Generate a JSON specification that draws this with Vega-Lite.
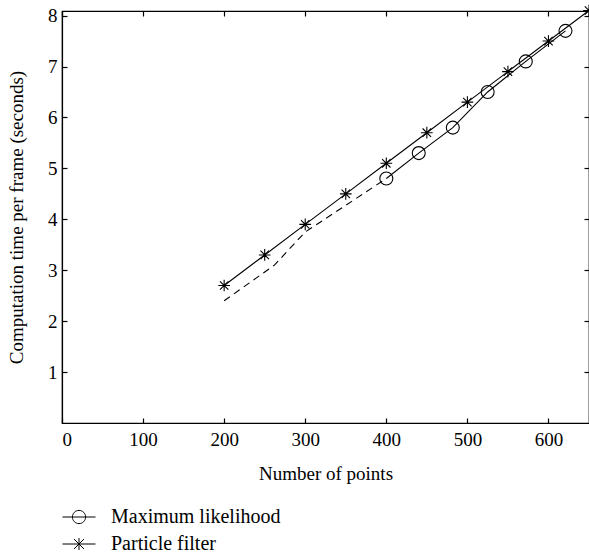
{
  "$schema": "https://vega.github.io/schema/vega-lite/v6.json",
  "width": 527,
  "height": 412,
  "autosize": {"type": "none"},
  "padding": {"left": 62, "top": 11, "right": 0, "bottom": 133},
  "background": "white",
  "config": {
    "font": "Liberation Serif",
    "view": {"stroke": "black", "strokeWidth": 1.2},
    "axis": {
      "grid": false,
      "domainColor": "black",
      "domainWidth": 1.2,
      "tickColor": "black",
      "tickWidth": 1.2,
      "tickSize": -5,
      "labelColor": "black",
      "titleColor": "black",
      "labelFont": "Liberation Serif",
      "titleFont": "Liberation Serif",
      "labelFontSize": 19,
      "titleFontSize": 19,
      "titleFontWeight": "normal",
      "labelPadding": 10
    },
    "legend": {
      "labelFont": "Liberation Serif",
      "labelFontSize": 20,
      "labelColor": "black",
      "labelLimit": 0
    }
  },
  "datasets": {
    "measurements": [
      {"series": "Particle filter", "points": 200, "time": 2.7},
      {"series": "Particle filter", "points": 250, "time": 3.3},
      {"series": "Particle filter", "points": 300, "time": 3.9},
      {"series": "Particle filter", "points": 350, "time": 4.5},
      {"series": "Particle filter", "points": 400, "time": 5.1},
      {"series": "Particle filter", "points": 450, "time": 5.7},
      {"series": "Particle filter", "points": 500, "time": 6.3},
      {"series": "Particle filter", "points": 550, "time": 6.9},
      {"series": "Particle filter", "points": 600, "time": 7.5},
      {"series": "Particle filter", "points": 650, "time": 8.1},
      {"series": "Maximum likelihood", "points": 400, "time": 4.8},
      {"series": "Maximum likelihood", "points": 440, "time": 5.3},
      {"series": "Maximum likelihood", "points": 482, "time": 5.8},
      {"series": "Maximum likelihood", "points": 525, "time": 6.5},
      {"series": "Maximum likelihood", "points": 572, "time": 7.1},
      {"series": "Maximum likelihood", "points": 621, "time": 7.7}
    ],
    "ml_dashed": [
      {"points": 200, "time": 2.4},
      {"points": 262, "time": 3.1},
      {"points": 300, "time": 3.75},
      {"points": 400, "time": 4.8}
    ]
  },
  "layer": [
    {
      "data": {"name": "measurements"},
      "mark": {"type": "line", "color": "black", "strokeWidth": 1.1},
      "encoding": {
        "x": {
          "field": "points", "type": "quantitative",
          "scale": {"domain": [0, 650], "nice": false, "zero": false},
          "axis": {"title": "Number of points", "values": [0, 100, 200, 300, 400, 500, 600], "labelPadding": 12, "titlePadding": 15}
        },
        "y": {
          "field": "time", "type": "quantitative",
          "scale": {"domain": [0, 8.09], "nice": false, "zero": false},
          "axis": {"title": "Computation time per frame (seconds)", "values": [1, 2, 3, 4, 5, 6, 7, 8], "titlePadding": 21}
        },
        "detail": {"field": "series"},
        "order": {"field": "points"}
      }
    },
    {
      "data": {"name": "ml_dashed"},
      "mark": {"type": "line", "color": "black", "strokeWidth": 1.1, "strokeDash": [7, 5]},
      "encoding": {
        "x": {
          "field": "points", "type": "quantitative",
          "scale": {"domain": [0, 650], "nice": false, "zero": false},
          "axis": {"orient": "top", "labels": false, "title": null, "values": [0, 100, 200, 300, 400, 500, 600]}
        },
        "y": {
          "field": "time", "type": "quantitative",
          "scale": {"domain": [0, 8.09], "nice": false, "zero": false},
          "axis": {"orient": "right", "labels": false, "title": null, "values": [1, 2, 3, 4, 5, 6, 7, 8]}
        }
      }
    },
    {
      "data": {"name": "measurements"},
      "mark": {"type": "point", "filled": false, "color": "black", "strokeWidth": 1.1, "size": 169, "opacity": 1},
      "encoding": {
        "x": {"field": "points", "type": "quantitative", "scale": {"domain": [0, 650], "nice": false, "zero": false}, "axis": null},
        "y": {"field": "time", "type": "quantitative", "scale": {"domain": [0, 8.09], "nice": false, "zero": false}, "axis": null},
        "shape": {
          "field": "series", "type": "nominal",
          "scale": {
            "domain": ["Maximum likelihood", "Particle filter"],
            "range": ["M1,0A1,1 0 1,1 -1,0A1,1 0 1,1 1,0Z", "M0,-0.9L0,0.9M-0.9,0L0.9,0M-0.65,-0.65L0.65,0.65M-0.65,0.65L0.65,-0.65"]
          },
          "legend": null
        }
      }
    },
    {
      "data": {"name": "measurements"},
      "mark": {"type": "point", "filled": false, "color": "black", "strokeWidth": 1, "size": 169, "opacity": 0},
      "encoding": {
        "x": {"field": "points", "type": "quantitative", "scale": {"domain": [0, 650], "nice": false, "zero": false}, "axis": null},
        "y": {"field": "time", "type": "quantitative", "scale": {"domain": [0, 8.09], "nice": false, "zero": false}, "axis": null},
        "shape": {
          "field": "series", "type": "nominal",
          "scale": {
            "domain": ["Maximum likelihood", "Particle filter"],
            "range": ["M-1,0L1,0M0.4,0A0.4,0.4 0 1,1 -0.4,0A0.4,0.4 0 1,1 0.4,0", "M-1,0L1,0M0,-0.36L0,0.36M-0.3,-0.3L0.3,0.3M-0.3,0.3L0.3,-0.3"]
          },
          "legend": {
            "orient": "none",
            "legendX": 0,
            "legendY": 489,
            "title": null,
            "padding": 0,
            "rowPadding": -7,
            "symbolSize": 1089,
            "symbolOpacity": 1,
            "symbolStrokeColor": "black",
            "symbolStrokeWidth": 1,
            "symbolFillColor": "transparent",
            "labelOffset": 15,
            "labelExpr": "datum.value == 'Particle filter' ? '\u00a0\u00a0Particle filter' : datum.label"
          }
        }
      }
    }
  ],
  "resolve": {"axis": {"x": "independent", "y": "independent"}, "scale": {"shape": "independent"}}
}
